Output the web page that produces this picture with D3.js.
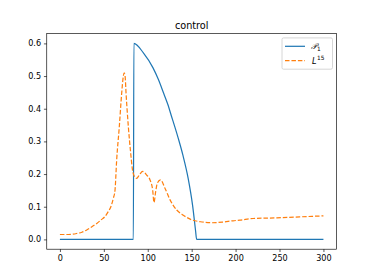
<!DOCTYPE html>
<html><head><meta charset="utf-8">
<script src="https://cdn.jsdelivr.net/npm/d3@7"></script>
<style>body{margin:0;background:#fff}svg{display:block}text{font-family:"DejaVu Sans",sans-serif;fill:#000}</style>
</head><body><div id="chart"></div>
<script>
const title = "control";
const xTicks = [0, 50, 100, 150, 200, 250, 300];
const yTicks = [0.0, 0.1, 0.2, 0.3, 0.4, 0.5, 0.6];
const p1T = [0, 83.6, 84.2, 95, 106, 112, 118, 123, 127, 131, 135, 140, 146, 151, 154.5, 155.6, 300];
const p1V = [0, 0, 0.600, 0.571, 0.525, 0.490, 0.448, 0.412, 0.377, 0.343, 0.307, 0.258, 0.187, 0.105, 0.025, 0, 0];
const lT = [0, 10, 19, 25, 30.5, 36, 42, 47, 51.3, 55, 58, 60.8, 62.7, 64.6, 67.6, 70.3, 72.2, 73.2, 74.2, 75.3, 77.9, 80.6, 82.5, 85, 87.4, 90.4, 94.2, 98.8, 102.6, 105.6, 107.1, 109, 110.9, 114.5, 119.7, 125.4, 133, 140.5, 150, 160, 172.8, 185, 197, 205, 220, 247, 273, 300];
const lV = [0.015, 0.015, 0.018, 0.022, 0.029, 0.038, 0.049, 0.060, 0.070, 0.085, 0.100, 0.126, 0.150, 0.243, 0.345, 0.447, 0.500, 0.510, 0.500, 0.447, 0.345, 0.263, 0.215, 0.192, 0.187, 0.197, 0.208, 0.197, 0.182, 0.151, 0.113, 0.146, 0.172, 0.182, 0.156, 0.121, 0.090, 0.074, 0.060, 0.054, 0.051, 0.053, 0.057, 0.059, 0.064, 0.066, 0.069, 0.072];

const W = 374, H = 280;
const mL = 46.75, mR = 336.6, mT = 33.6, mB = 249.2;
const svg = d3.select("#chart").append("svg").attr("width", W).attr("height", H);
const x = d3.scaleLinear().domain([-15, 315]).range([mL, mR]);
const y = d3.scaleLinear().domain([-0.03, 0.63]).range([mB, mT]);
const fs = 8.1;

const xa = svg.append("g").attr("transform", `translate(0,${mB})`)
  .call(d3.axisBottom(x).tickValues(xTicks).tickFormat(d3.format("d")).tickSize(2.84).tickPadding(2.84));
const ya = svg.append("g").attr("transform", `translate(${mL},0)`)
  .call(d3.axisLeft(y).tickValues(yTicks).tickFormat(d3.format(".1f")).tickSize(2.84).tickPadding(2.84));
[xa, ya].forEach(a => {
  a.select(".domain").remove();
  a.selectAll(".tick line").attr("stroke", "#000").attr("stroke-width", 0.65);
  a.selectAll(".tick text").attr("font-size", fs).attr("font-family", "DejaVu Sans").attr("fill", "#000");
});

svg.append("path").datum(p1T.map((t, i) => [t, p1V[i]]))
  .attr("d", d3.line().x(d => x(d[0])).y(d => y(d[1])).curve(d3.curveMonotoneX))
  .attr("fill", "none").attr("stroke", "#1f77b4").attr("stroke-width", 1.22);
svg.append("path").datum(lT.map((t, i) => [t, lV[i]]))
  .attr("d", d3.line().x(d => x(d[0])).y(d => y(d[1])).curve(d3.curveMonotoneX))
  .attr("fill", "none").attr("stroke", "#ff7f0e").attr("stroke-width", 1.22).attr("stroke-dasharray", "4.5,1.95");

svg.append("rect").attr("x", mL).attr("y", mT).attr("width", mR - mL).attr("height", mB - mT)
  .attr("fill", "none").attr("stroke", "#000").attr("stroke-width", 0.65);

svg.append("text").attr("x", (mL + mR) / 2).attr("y", mT - 4.9).attr("text-anchor", "middle")
  .attr("font-size", 9.7).text(title);

// legend
const lg = svg.append("g");
lg.append("rect").attr("x", 282).attr("y", 37.9).attr("width", 50.5).attr("height", 31.3).attr("rx", 1.6)
  .attr("fill", "#fff").attr("fill-opacity", 0.8).attr("stroke", "#ccc").attr("stroke-width", 0.8);
const rows = [{c: "#1f77b4", d: null, y: 46.3}, {c: "#ff7f0e", d: "4.5,1.95", y: 60.7}];
rows.forEach(r => {
  const l = lg.append("line").attr("x1", 285).attr("x2", 305).attr("y1", r.y).attr("y2", r.y)
    .attr("stroke", r.c).attr("stroke-width", 1.22);
  if (r.d) l.attr("stroke-dasharray", r.d);
});
const t1 = lg.append("text").attr("x", 311).attr("y", 49.3).attr("font-size", fs);
t1.append("tspan").attr("font-family", "DejaVu Serif").attr("font-style", "italic").text("\u{1D4AB}");
t1.append("tspan").attr("font-size", 5.8).attr("dy", 1.6).text("1");
const t2 = lg.append("text").attr("x", 312).attr("y", 63.7).attr("font-size", fs);
t2.append("tspan").attr("font-style", "italic").text("L");
t2.append("tspan").attr("font-size", 5.8).attr("dy", -3.5).attr("dx", 0.6).text("15");
</script></body></html>
